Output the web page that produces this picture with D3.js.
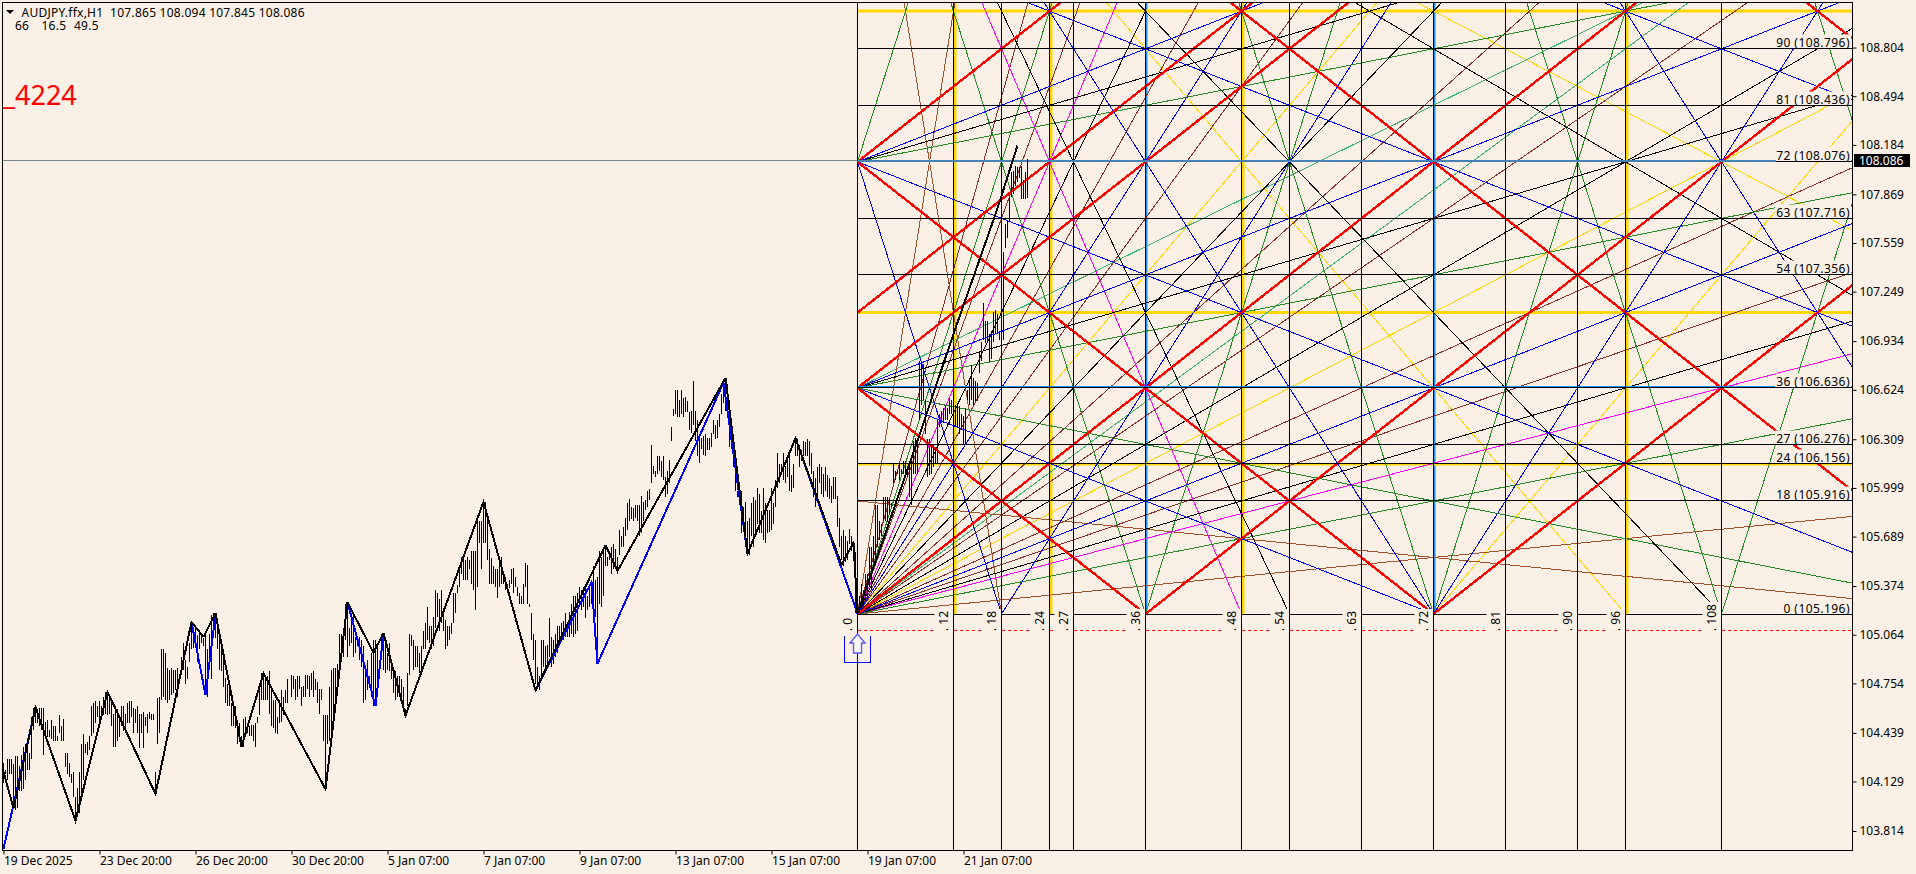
<!DOCTYPE html>
<html><head><meta charset="utf-8">
<script src="https://cdn.jsdelivr.net/npm/d3@7/dist/d3.min.js"></script>
<style>
html,body{margin:0;padding:0;background:#faf0e6;overflow:hidden}
text{font-family:"Noto Sans",sans-serif;font-size:12px;fill:#000;white-space:pre}
</style></head><body><svg id="c" width="1916" height="874"></svg>
<script>
const highs=[
104.25,104.20,104.27,104.27,104.27,104.24,104.29,104.29,104.23,104.30,
104.35,104.37,104.39,104.31,104.54,104.60,104.60,104.59,104.60,104.60,
104.60,104.51,104.52,104.46,104.52,104.48,104.48,104.42,104.55,104.48,
104.53,104.31,104.31,104.25,104.18,104.19,104.03,104.09,104.19,104.37,
104.43,104.37,104.38,104.42,104.61,104.63,104.64,104.61,104.64,104.61,
104.67,104.70,104.68,104.68,104.65,104.56,104.61,104.59,104.54,104.61,
104.61,104.56,104.63,104.64,104.64,104.60,104.59,104.61,104.56,104.56,104.57,104.54,104.56,104.57,104.56,104.56,
104.19,104.66,104.67,104.97,104.97,104.95,104.85,104.84,104.85,104.84,
104.84,104.85,104.78,104.92,105.01,104.90,104.86,105.01,105.15,105.05,
105.12,105.06,105.07,105.06,105.04,105.09,104.97,105.07,105.19,105.20,
105.20,105.14,105.09,105.00,104.90,104.79,104.75,104.73,104.63,104.61,
104.61,104.52,104.50,104.42,104.53,104.54,104.48,104.48,104.49,104.49,
104.50,104.54,104.71,104.82,104.83,104.80,104.80,104.83,104.71,104.65,
104.65,104.54,104.65,104.71,104.67,104.71,104.78,104.71,104.81,104.80,104.78,104.80,104.80,104.73,104.74,
104.81,104.81,104.80,104.82,104.83,104.78,104.76,104.72,104.72,104.55,
104.55,104.55,104.73,104.84,104.85,104.85,104.88,105.07,105.07,105.04,
105.26,105.24,105.11,105.16,105.20,105.05,105.03,105.05,105.03,104.99,
104.84,104.90,104.80,104.95,105.03,105.03,105.01,104.88,105.07,105.07,
105.03,104.95,105.01,104.89,104.86,104.83,104.80,104.80,104.78,104.73,
104.59,104.82,105.07,105.06,105.03,104.99,104.99,104.95,104.99,105.09,
105.14,105.24,105.12,105.12,105.18,105.35,105.33,105.29,105.35,105.20,
105.16,105.12,105.12,105.14,105.33,105.33,105.38,105.50,105.56,105.55,
105.54,105.56,105.54,105.60,105.60,105.60,105.79,105.79,105.79,105.90,
105.91,105.81,105.61,105.55,105.50,105.48,105.48,105.52,105.56,105.45,
105.43,105.39,105.41,105.48,105.49,105.43,105.37,105.33,105.31,105.39,
105.52,105.51,105.26,105.20,105.07,105.03,104.86,104.80,105.03,105.03,
104.99,105.00,105.17,105.05,105.03,105.07,105.12,105.12,105.14,105.15,
105.20,105.14,105.21,105.26,105.31,105.31,105.33,105.37,105.35,105.37,
105.37,105.31,105.39,105.39,105.50,105.41,105.43,105.60,105.56,105.62,
105.63,105.56,105.60,105.62,105.64,105.61,105.56,105.73,105.69,105.75,
105.81,105.90,105.93,105.88,105.87,105.89,105.89,105.89,105.95,105.91,
105.92,105.98,105.99,106.27,106.14,106.11,106.20,106.20,106.17,106.20,
106.07,106.11,106.18,106.39,106.50,106.62,106.62,106.56,106.62,106.57,
106.58,106.55,106.48,106.49,106.68,106.49,106.43,106.34,106.32,106.33,
106.34,106.32,106.32,106.35,106.43,106.40,106.43,106.47,106.60,106.64,
106.69,106.66,106.56,106.40,106.24,106.15,105.98,105.98,105.98,105.88,
105.91,105.79,105.81,105.90,105.94,105.92,106.00,105.96,105.85,106.00,
105.90,105.86,105.86,106.00,105.90,106.05,106.22,106.15,106.15,106.22,
106.14,106.18,106.24,106.08,106.15,106.32,106.31,106.27,106.24,106.30,
106.29,106.31,106.30,106.22,106.11,106.06,106.13,106.15,106.13,106.09,
106.13,106.08,106.06,106.01,106.07,106.07,105.95,105.81,105.69,105.73,
105.69,105.66,105.74,105.69,105.66,105.59,105.56,
105.31,105.39,105.35,105.45,105.45,105.62,105.62,105.69,105.89,105.89,
105.79,105.77,105.94,105.94,105.94,105.93,105.90,106.15,106.11,106.11,
106.16,106.12,106.17,106.17,106.14,106.17,106.17,106.30,106.32,106.32,
106.81,106.80,106.79,106.56,106.31,106.31,106.28,106.28,106.26,106.43,
106.47,106.49,106.51,106.53,106.51,106.57,106.56,106.51,106.53,106.54,
106.52,106.47,106.46,106.51,106.62,106.69,106.78,106.70,106.68,106.67,
106.87,106.93,107.18,107.06,107.06,106.98,107.00,107.12,107.13,107.11,
107.00,107.06,107.50,107.68,107.70,107.85,108.01,108.02,108.05,108.04,
108.04,108.05,107.96,108.01,108.094];
const lows=[
104.12,104.18,104.14,104.18,104.18,104.01,103.95,103.96,104.07,104.07,
104.08,104.14,104.20,104.20,104.27,104.46,104.50,104.50,104.48,104.46,
104.30,104.43,104.41,104.41,104.40,104.39,104.39,104.39,104.44,104.39,
104.39,104.22,104.18,104.16,104.12,104.03,103.89,103.91,103.93,104.01,
104.14,104.31,104.30,104.33,104.42,104.44,104.50,104.54,104.50,104.55,
104.55,104.56,104.55,104.56,104.48,104.35,104.35,104.39,104.41,104.48,
104.45,104.45,104.50,104.50,104.54,104.44,104.50,104.44,104.34,104.44,104.34,104.48,104.44,104.53,104.52,104.52,
104.05,104.37,104.44,104.65,104.67,104.65,104.63,104.65,104.68,104.69,
104.71,104.67,104.75,104.82,104.84,104.75,104.78,104.89,104.97,104.98,
105.01,104.89,104.97,105.01,104.99,104.68,104.67,104.86,104.78,105.05,
105.04,104.97,104.84,104.83,104.73,104.63,104.61,104.61,104.48,104.48,
104.47,104.37,104.39,104.35,104.35,104.44,104.44,104.42,104.42,104.39,
104.35,104.50,104.55,104.65,104.65,104.65,104.65,104.56,104.48,104.47,
104.44,104.43,104.50,104.51,104.55,104.63,104.63,104.71,104.67,104.72,104.65,104.67,104.72,104.61,104.67,
104.67,104.72,104.67,104.71,104.67,104.71,104.63,104.56,104.65,104.39,
104.08,104.37,104.39,104.44,104.54,104.65,104.69,104.78,104.90,104.92,
105.03,104.92,104.99,105.01,104.92,104.95,104.99,104.90,104.86,104.63,
104.65,104.71,104.75,104.67,104.61,104.63,104.78,104.86,104.95,104.84,
104.82,104.84,104.83,104.78,104.69,104.65,104.67,104.71,104.65,104.61,
104.56,104.61,104.81,104.99,104.84,104.86,104.86,104.82,104.84,104.97,
104.97,105.03,105.01,104.97,104.99,105.11,105.18,105.09,105.14,105.09,
104.97,104.99,105.03,105.07,105.14,105.20,105.33,105.37,105.45,105.41,
105.41,105.41,105.48,105.39,105.35,105.22,105.37,105.65,105.48,105.65,
105.65,105.54,105.39,105.39,105.39,105.37,105.30,105.37,105.39,105.39,
105.35,105.36,105.36,105.39,105.33,105.37,105.31,105.26,105.26,105.26,
105.37,105.26,105.24,105.03,104.90,104.75,104.72,104.71,104.78,104.86,
104.86,104.88,104.92,104.86,104.88,104.92,104.95,104.99,105.03,105.03,
105.05,105.05,105.05,105.07,105.05,105.07,105.09,105.26,105.22,105.24,
105.17,105.22,105.24,105.26,105.20,105.18,104.88,105.26,105.24,105.31,
105.50,105.50,105.54,105.45,105.48,105.50,105.45,105.57,105.62,105.62,
105.69,105.73,105.79,105.80,105.79,105.81,105.79,105.69,105.71,105.79,
105.86,105.88,105.92,106.03,106.09,106.07,106.09,106.11,106.07,106.05,
105.94,105.96,106.03,106.30,106.46,106.47,106.45,106.45,106.47,106.45,
106.48,106.48,106.37,106.35,106.40,106.30,106.20,106.16,106.25,106.21,
106.20,106.24,106.24,106.26,106.34,106.31,106.32,106.39,106.47,106.54,
106.49,106.47,106.26,106.25,106.13,105.98,105.94,105.89,105.71,105.78,
105.73,105.57,105.57,105.69,105.62,105.69,105.77,105.71,105.71,105.67,
105.65,105.71,105.72,105.73,105.77,105.88,106.00,106.03,106.11,106.05,
106.03,106.07,105.98,105.97,106.00,106.20,106.20,106.13,106.17,106.20,
106.20,106.20,106.14,106.09,105.94,105.88,105.94,106.03,105.96,105.94,
105.98,105.94,105.93,105.90,105.93,105.93,105.75,105.62,105.54,105.50,
105.53,105.54,105.64,105.60,105.60,105.20,105.20,
105.20,105.22,105.24,105.28,105.31,105.37,105.35,105.52,105.52,105.62,
105.67,105.69,105.79,105.79,105.78,105.83,105.88,106.03,106.05,106.09,
106.05,106.09,106.09,106.07,106.07,105.94,105.89,106.09,106.09,106.09,
106.43,106.53,106.56,106.34,106.07,106.08,106.09,106.13,106.15,106.15,
106.39,106.41,106.41,106.43,106.43,106.47,106.47,106.39,106.39,106.38,
106.34,106.37,106.28,106.28,106.56,106.53,106.56,106.53,106.55,106.55,
106.73,106.81,106.94,106.92,106.92,106.80,106.82,106.93,106.98,106.98,
106.94,106.94,106.94,107.53,107.59,107.70,107.85,107.87,107.92,107.95,
107.97,107.84,107.84,107.84,107.845];

const zigBarsBlack=[0,5,16,36,52,76,94,100,106,119,130,161,172,185,190,201,240,266,301,307,361,372,396,419,425,427,457,475,497,507];
const zigBlack=[104.19,103.96,104.60,103.88,104.70,104.05,105.145,105.05,105.20,104.35,104.82,104.08,105.27,104.95,105.075,104.55,105.91,104.71,105.635,105.47,106.70,105.58,106.315,105.51,105.65,105.20,106.30,106.98,107.78,108.18];
const zigBarsBlue=[0,16,36,52,76,94,101,106,119,130,161,172,186,190,201,240,266,294,297,360,372,396,427];
const zigBlue=[103.70,104.60,103.88,104.70,104.05,105.145,104.68,105.20,104.35,104.82,104.08,105.27,104.61,105.075,104.55,105.91,104.71,105.40,104.88,106.67,105.58,106.315,105.20];

const timeBars=[0,48,96,144,192,240,288,336,384,432,480];
const timeLabels=["19 Dec 2025","23 Dec 20:00","26 Dec 20:00","30 Dec 20:00","5 Jan 07:00","7 Jan 07:00","9 Jan 07:00","13 Jan 07:00","15 Jan 07:00","19 Jan 07:00","21 Jan 07:00"];
const priceTicks=[108.804,108.494,108.184,107.869,107.559,107.249,106.934,106.624,106.309,105.999,105.689,105.374,105.064,104.754,104.439,104.129,103.814];

const basePrice=105.196, stepPrice=0.04;
const timeSteps=[0,12,18,24,27,36,48,54,63,72,81,90,96,108];
const goldTime=[12,24,48,96], blueTime=[36,72];
const priceSteps=[0,18,24,27,36,54,63,72,81,90];
const priceStepLabels=["105.196","105.916","106.156","106.276","106.636","107.356","107.716","108.076","108.436","108.796"];
const goldLevelsThick=[48,96], goldLevelsThin=[24], blueLevels=[36,72];

const fanRed=[[0,0,130,130],[0,36,96,132],[0,48,60,108],[0,72,36,108],[36,0,164,128],[72,0,200,128],[0,36,36,0],[0,72,72,0],[0,144,144,0],[0,216,216,0]];
const fanBlue=[[0,0,216,108],[0,36,144,108],[0,72,72,108],[0,36,72,0],[0,72,144,0],[0,108,216,0],[0,144,288,0],[0,0,54,108],[18,0,72,108],[72,0,126,108],[18,108,72,0],[90,108,144,0],[0,72,18,0]];
const fanGreen=[[0,0,144,36],[0,36,144,72],[0,72,144,108],[0,36,144,0],[0,0,27,108],[0,72,9,108],[36,0,63,108],[72,0,99,108],[108,0,135,108],[9,108,36,0],[45,108,72,0],[81,108,108,0],[117,108,144,0]];
const fanBrown=[[0,0,144,18],[0,18,144,0],[0,0,13,104],[0,144,18,0]];
const fanMagenta=[[0,0,144,48],[0,0,36,108],[0,144,48,0]];
const fanBlack=[[0,0,160,60],[0,36,160,96],[0,72,160,132],[0,0,36,96],[0,144,54,0],[0,0,144,108],[0,144,192,0],[0,0,81,108],[0,144,108,0]];
const fanGold=[[0,0,144,96],[0,0,72,108],[0,144,96,0],[72,0,144,108],[0,144,216,0]];
const fanDarkRed=[[0,0,160,70],[0,0,140,80],[0,0,160,140],[0,0,140,160],[0,0,80,140],[0,0,70,160],[0,0,40,140],[0,0,35,160]];
const fanSea=[[0,0,160,150],[0,36,160,136]];

const stopPrice=105.094, lastPrice=108.086;

const svg=d3.select("#c");
const L=2.5,R=1852.5,T=2.5,B=850.5;
const xBar=d3.scaleLinear().domain([0,512]).range([3.5,1027.5]);
const yP=d3.scaleLinear().domain([basePrice-(B-614)/157,basePrice+(614-T)/157]).range([B,T]);
const xN=d3.scaleLinear().domain([0,108]).range([857.5,1721.5]);
const lev=n=>basePrice+stepPrice*n;
const yL=n=>yP(lev(n));
const crisp=v=>Math.floor(v)+.5;

svg.append("rect").attr("width",1916).attr("height",874).attr("fill","#faf0e6");
svg.append("clipPath").attr("id","plot").append("rect").attr("x",L).attr("y",T).attr("width",R-L).attr("height",B-T);
svg.append("clipPath").attr("id","fan").append("rect").attr("x",xN(0)).attr("y",T).attr("width",R-xN(0)).attr("height",yL(0)-T);
const g=svg.append("g").attr("clip-path","url(#plot)");

const gv=g.append("g");
gv.selectAll("line.g").data(goldTime).join("line").attr("class","g").attr("x1",d=>xN(d)+1.5).attr("x2",d=>xN(d)+1.5).attr("y1",T).attr("y2",yL(0)).attr("stroke","#ffd700").attr("stroke-width",3);
gv.selectAll("line.b").data(blueTime).join("line").attr("class","b").attr("x1",d=>xN(d)+1).attr("x2",d=>xN(d)+1).attr("y1",T).attr("y2",yL(0)).attr("stroke","#1e90ff").attr("stroke-width",2);
g.selectAll("line.gl").data(goldLevelsThick).join("line").attr("class","gl").attr("x1",xN(0)).attr("x2",R).attr("y1",d=>yL(d)).attr("y2",d=>yL(d)).attr("stroke","#ffd700").attr("stroke-width",3);
g.selectAll("line.gt").data(goldLevelsThin).join("line").attr("class","gt").attr("x1",xN(0)).attr("x2",R).attr("y1",d=>crisp(yL(d))+1).attr("y2",d=>crisp(yL(d))+1).attr("stroke","#ffd700").attr("stroke-width",2);

const fan=g.append("g").attr("clip-path","url(#fan)").attr("shape-rendering","crispEdges");
function drawFan(rows,color,w){
  fan.append("g").selectAll("line").data(rows).join("line")
    .attr("x1",d=>xN(d[0])).attr("y1",d=>yL(d[1])).attr("x2",d=>xN(d[2])).attr("y2",d=>yL(d[3]))
    .attr("stroke",color).attr("stroke-width",w);
}
drawFan(fanGold,"#ffd700",1);
drawFan(fanSea,"#3cb371",1);
drawFan(fanDarkRed,"#8b2e2e",1);
drawFan(fanBrown,"#a0522d",1);
drawFan(fanMagenta,"#ff00ff",1);
drawFan(fanGreen,"#228b22",1);
drawFan(fanBlack,"#000",1);
drawFan(fanBlue,"#0000ff",1);
drawFan(fanRed,"#ff0000",2.4);

g.append("line").attr("x1",xN(0)).attr("x2",R).attr("y1",crisp(yP(stopPrice))).attr("y2",crisp(yP(stopPrice))).attr("stroke","#ff0000").attr("stroke-dasharray","3,3").attr("shape-rendering","crispEdges");

g.selectAll("line.bl").data(blueLevels).join("line").attr("class","bl").attr("x1",xN(0)).attr("x2",R).attr("y1",d=>crisp(yL(d))-1).attr("y2",d=>crisp(yL(d))-1).attr("stroke","#1e90ff").attr("stroke-width",1);
g.append("line").attr("x1",L).attr("x2",R).attr("y1",crisp(yP(lastPrice))).attr("y2",crisp(yP(lastPrice))).attr("stroke","#778a8a").attr("stroke-width",1);

// lines under the rotated labels: the zero level is broken by them
const blk=svg.append("g").attr("stroke","#000").attr("shape-rendering","crispEdges");
blk.append("line").attr("x1",xN(0)).attr("x2",R).attr("y1",crisp(yL(0))).attr("y2",crisp(yL(0)));

const labels=svg.append("g");
priceSteps.forEach((n,i)=>{
  const y=crisp(yL(n));
  const bg=labels.append("rect").attr("fill","#faf0e6");
  const t=labels.append("text").attr("x",1850).attr("y",y-2).attr("text-anchor","end").style("letter-spacing","0.45px").text(`${n} (${priceStepLabels[i]})`);
  const w=t.node().getComputedTextLength();
  bg.attr("x",1850-w-1).attr("y",y-14).attr("width",w+2).attr("height",n===0?13:14);
});
timeSteps.forEach(n=>{
  const x=xN(n)-6;
  const bg=labels.append("rect").attr("fill","#faf0e6");
  const t=labels.append("text").attr("transform",`translate(${x},631) rotate(-90)`).text(". "+n);
  const w=t.node().getComputedTextLength();
  bg.attr("x",xN(n)-19).attr("y",631-w-2).attr("width",19).attr("height",w+6);
});

const blk2=svg.append("g").attr("stroke","#000").attr("shape-rendering","crispEdges");
blk2.selectAll("line.v").data(timeSteps).join("line").attr("class","v").attr("x1",d=>xN(d)).attr("x2",d=>xN(d)).attr("y1",T).attr("y2",B);
blk2.selectAll("line.h").data(priceSteps.filter(n=>n>0)).join("line").attr("class","h").attr("x1",xN(0)).attr("x2",R).attr("y1",d=>crisp(yL(d))).attr("y2",d=>crisp(yL(d)));
// steel overlay on the level that carries the current price, up to its label
svg.append("rect").attr("x",xN(0)).attr("width",1776-xN(0)).attr("y",crisp(yL(72))-1.5).attr("height",2).attr("fill","#4682b4");

svg.append("g").attr("clip-path","url(#plot)").selectAll("line").data(highs).join("line")
  .attr("x1",(d,i)=>xBar(i)).attr("x2",(d,i)=>xBar(i)).attr("y1",d=>Math.round(yP(d)))
  .attr("y2",(d,i)=>Math.round(yP(lows[i]))).attr("stroke","#000").attr("shape-rendering","crispEdges");

const lineGen=d3.line().x(d=>xBar(d[0])).y(d=>yP(d[1]));
svg.append("path").attr("d",lineGen(zigBarsBlue.map((b,i)=>[b,zigBlue[i]]))).attr("fill","none").attr("stroke","#0000ff").attr("stroke-width",2).attr("clip-path","url(#plot)").attr("shape-rendering","crispEdges");
svg.append("path").attr("d",lineGen(zigBarsBlack.map((b,i)=>[b,zigBlack[i]]))).attr("fill","none").attr("stroke","#000").attr("stroke-width",2).attr("stroke-linejoin","bevel").attr("clip-path","url(#plot)").attr("shape-rendering","crispEdges");

const ax=xN(0), ay=yP(stopPrice);
svg.append("path").attr("fill","none").attr("stroke","#0000ff").attr("shape-rendering","crispEdges").attr("d",`M${ax-13},${ay+6}V${ay+32}H${ax+13}V${ay+6}`);
svg.append("path").attr("fill","#fff8f0").attr("stroke","#5a5aff").attr("stroke-width",1.4).attr("d",`M${ax},${ay+4}L${ax+7.5},${ay+13}H${ax+4}V${ay+23}H${ax-4}V${ay+13}H${ax-7.5}Z`);

svg.append("rect").attr("x",L).attr("y",T).attr("width",R-L).attr("height",B-T).attr("fill","none").attr("stroke","#000").attr("shape-rendering","crispEdges");

const ay1=svg.append("g").attr("transform",`translate(${R},0)`).call(d3.axisRight(yP).tickValues(priceTicks).tickFormat(d3.format(".3f")).tickSize(4).tickPadding(3));
ay1.select(".domain").remove();
ay1.selectAll("text").style("font-family",'"Noto Sans",sans-serif').style("font-size","12px").attr("fill","#000");
const ax1=svg.append("g").attr("transform",`translate(0,${B})`).call(d3.axisBottom(xBar).tickValues(timeBars).tickFormat((d,i)=>timeLabels[i]).tickSize(4).tickPadding(2));
ax1.select(".domain").remove();
ax1.selectAll("text").attr("text-anchor","start").style("font-family",'"Noto Sans",sans-serif').style("font-size","12px").attr("fill","#000");

svg.append("rect").attr("x",1854).attr("y",Math.round(yP(lastPrice))-6).attr("width",56).attr("height",13).attr("fill","#000");
svg.append("text").attr("x",1859).attr("y",yP(lastPrice)+4.5).style("fill","#fff").text(d3.format(".3f")(lastPrice));

svg.append("path").attr("d","M6,10H14L10,14Z").attr("fill","#000");
svg.append("text").attr("x",21.5).attr("y",16.5).style("letter-spacing","0.25px").text("AUDJPY.ffx,H1  107.865 108.094 107.845 108.086");
const statValues=["66","16.5","49.5"], statX=[15,41.5,74];
statValues.forEach((s,i)=>svg.append("text").attr("x",statX[i]).attr("y",30).style("letter-spacing","0.25px").text(s));
svg.append("text").attr("x",3).attr("y",104.5).style("fill","#ff0000").style("font-size","27px").text("_4224");
</script></body></html>
